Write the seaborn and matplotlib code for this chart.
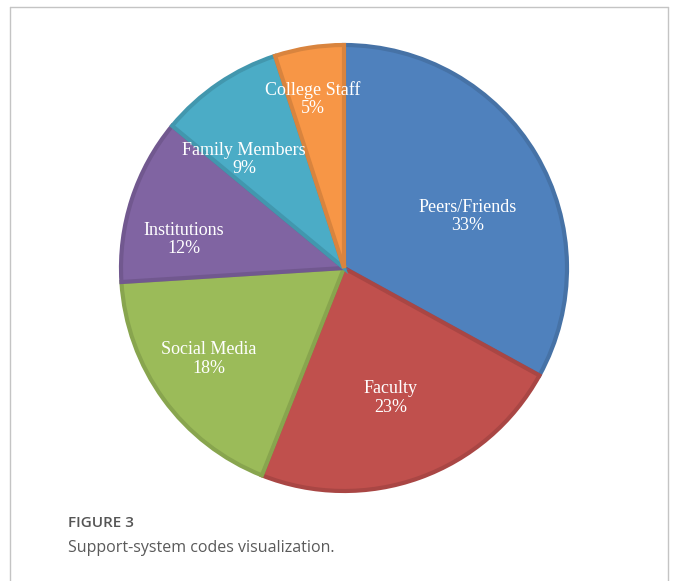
import matplotlib
matplotlib.use("Agg")
import matplotlib.pyplot as plt
import seaborn as sns
import numpy as np
from matplotlib.lines import Line2D
import matplotlib.colors as mcolors

categories = ["Peers/Friends", "Faculty", "Social Media", "Institutions", "Family Members", "College Staff"]
values = [33, 23, 18, 12, 9, 5]
colors = ["#4F81BD", "#C0504D", "#9BBB59", "#8064A2", "#4BACC6", "#F79646"]
# label placement (fraction of radius, angular offset in degrees)
label_r = [0.60, 0.62, 0.73, 0.73, 0.66, 0.77]
label_dt = [-8, 0, -2, 8, 8.5, 1.5]

sns.set_theme(style="white")
palette = sns.color_palette(colors)
edge_colors = [tuple(np.array(mcolors.to_rgb(c)) * 0.88) for c in colors]

W, H = 680, 581
fig = plt.figure(figsize=(W / 100, H / 100), dpi=100)
fig.patch.set_facecolor("white")

cx, cy, R = 344, 268, 223
ax = fig.add_axes([(cx - R) / W, (H - cy - R) / H, 2 * R / W, 2 * R / H])
wedges, _ = ax.pie(values, colors=palette, startangle=90, counterclock=False,
                   radius=1.0, wedgeprops=dict(linewidth=3.0))
for w, ec in zip(wedges, edge_colors):
    w.set_edgecolor(ec)
ax.set_xlim(-1, 1)
ax.set_ylim(-1, 1)
ax.set_aspect("equal", adjustable="box")
ax.axis("off")

total = sum(values)
cum = 0
for cat, v, r, dt in zip(categories, values, label_r, label_dt):
    mid = 90 - 360 * (cum + v / 2) / total + dt
    cum += v
    th = np.deg2rad(mid)
    ax.text(r * np.cos(th), r * np.sin(th), f"{cat}\n{v}%", ha="center", va="center",
            color="white", fontsize=13, family="Liberation Serif", linespacing=1.1)

# frame (open at bottom)
fc = "#c4c4c4"
fig.add_artist(Line2D([10 / W, 10 / W], [0, 1 - 7 / H], transform=fig.transFigure, color=fc, lw=1))
fig.add_artist(Line2D([10 / W, 668 / W], [1 - 7 / H, 1 - 7 / H], transform=fig.transFigure, color=fc, lw=1))
fig.add_artist(Line2D([668 / W, 668 / W], [0, 1 - 7 / H], transform=fig.transFigure, color=fc, lw=1))

fig.text(68 / W, 1 - 523 / H, "FIGURE 3", ha="left", va="center", fontsize=11,
         family="Open Sans", fontweight="semibold", color="#555555")
fig.text(68 / W, 1 - 548 / H, "Support-system codes visualization.", ha="left", va="center",
         fontsize=11.5, family="Open Sans", color="#5a5a5a")

fig.savefig("out.png", dpi=100, facecolor="white")
